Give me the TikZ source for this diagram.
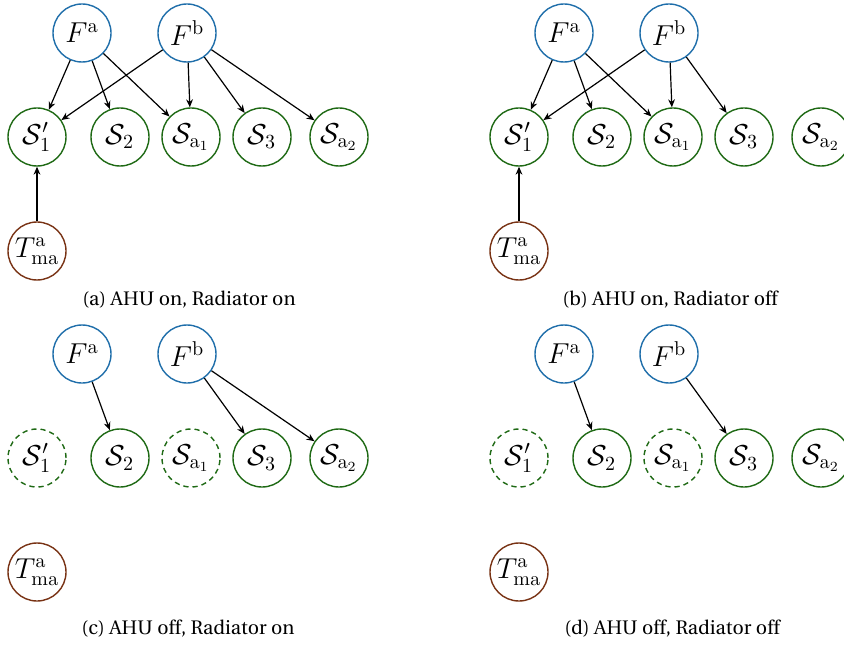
\documentclass[tikz,border=0pt]{standalone}
\usepackage[T1]{fontenc}
\usetikzlibrary{arrows.meta}
\definecolor{fblue}{RGB}{31,110,170}
\definecolor{sgreen}{RGB}{30,105,20}
\definecolor{tbrown}{RGB}{120,50,20}
\newcommand{\capfont}{\fontencoding{T1}\fontfamily{put}\selectfont}
\tikzset{
  vnode/.style={circle,draw,line width=0.7pt,minimum size=29pt,inner sep=0pt,font=\fontsize{14.4}{17}\selectfont},
  fnode/.style={vnode,draw=fblue},
  snode/.style={vnode,draw=sgreen},
  soff/.style={snode,dash pattern=on 2.6pt off 2pt},
  tnode/.style={vnode,draw=tbrown},
  conn/.style={-{Stealth[length=4pt,width=3.4pt]},line width=0.6pt,black},
  capt/.style={font=\capfont\fontsize{9.8}{12}\selectfont,inner sep=0pt}
}
\begin{document}
\begin{tikzpicture}[x=0.5pt,y=-0.5pt]
\useasboundingbox (0,0) rectangle (844,646);
% ---------- panel (a)
\begin{scope}
\node[fnode] (aFa) at (82,33) {$F^{\mathrm{a}}$};
\node[fnode] (aFb) at (187,33) {$F^{\mathrm{b}}$};
\node[snode] (aS1) at (37,137) {$\mathcal{S}'_1$};
\node[snode] (aS2) at (120,137) {$\mathcal{S}_2$};
\node[snode] (aSa1) at (191,137) {$\mathcal{S}_{\mathrm{a}_1}$};
\node[snode] (aS3) at (262,137) {$\mathcal{S}_3$};
\node[snode] (aSa2) at (339,137) {$\mathcal{S}_{\mathrm{a}_2}$};
\node[tnode] (aT) at (37,251) {$T^{\mathrm{a}}_{\mathrm{ma}}$};
\draw[conn] (aFa) -- (aS1);
\draw[conn] (aFa) -- (aS2);
\draw[conn] (aFa) -- (aSa1);
\draw[conn] (aFb) -- (aS1);
\draw[conn] (aFb) -- (aSa1);
\draw[conn] (aFb) -- (aS3);
\draw[conn] (aFb) -- (aSa2);
\draw[conn] (aT) -- (aS1);
\node[capt] (acap) at (189,300) {(a) AHU on, Radiator on};
\end{scope}
% ---------- panel (b)
\begin{scope}[shift={(482,0)}]
\node[fnode] (bFa) at (82,33) {$F^{\mathrm{a}}$};
\node[fnode] (bFb) at (187,33) {$F^{\mathrm{b}}$};
\node[snode] (bS1) at (37,137) {$\mathcal{S}'_1$};
\node[snode] (bS2) at (120,137) {$\mathcal{S}_2$};
\node[snode] (bSa1) at (191,137) {$\mathcal{S}_{\mathrm{a}_1}$};
\node[snode] (bS3) at (262,137) {$\mathcal{S}_3$};
\node[snode] (bSa2) at (339,137) {$\mathcal{S}_{\mathrm{a}_2}$};
\node[tnode] (bT) at (37,251) {$T^{\mathrm{a}}_{\mathrm{ma}}$};
\draw[conn] (bFa) -- (bS1);
\draw[conn] (bFa) -- (bS2);
\draw[conn] (bFa) -- (bSa1);
\draw[conn] (bFb) -- (bS1);
\draw[conn] (bFb) -- (bSa1);
\draw[conn] (bFb) -- (bS3);
\draw[conn] (bT) -- (bS1);
\node[capt] (bcap) at (188,300) {(b) AHU on, Radiator off};
\end{scope}
% ---------- panel (c)
\begin{scope}[shift={(0,321)}]
\node[fnode] (cFa) at (82,33) {$F^{\mathrm{a}}$};
\node[fnode] (cFb) at (187,33) {$F^{\mathrm{b}}$};
\node[soff] (cS1) at (37,137) {$\mathcal{S}'_1$};
\node[snode] (cS2) at (120,137) {$\mathcal{S}_2$};
\node[soff] (cSa1) at (191,137) {$\mathcal{S}_{\mathrm{a}_1}$};
\node[snode] (cS3) at (262,137) {$\mathcal{S}_3$};
\node[snode] (cSa2) at (339,137) {$\mathcal{S}_{\mathrm{a}_2}$};
\node[tnode] (cT) at (37,251) {$T^{\mathrm{a}}_{\mathrm{ma}}$};
\draw[conn] (cFa) -- (cS2);
\draw[conn] (cFb) -- (cS3);
\draw[conn] (cFb) -- (cSa2);
\node[capt] (ccap) at (188,308) {(c) AHU off, Radiator on};
\end{scope}
% ---------- panel (d)
\begin{scope}[shift={(482,321)}]
\node[fnode] (dFa) at (82,33) {$F^{\mathrm{a}}$};
\node[fnode] (dFb) at (187,33) {$F^{\mathrm{b}}$};
\node[soff] (dS1) at (37,137) {$\mathcal{S}'_1$};
\node[snode] (dS2) at (120,137) {$\mathcal{S}_2$};
\node[soff] (dSa1) at (191,137) {$\mathcal{S}_{\mathrm{a}_1}$};
\node[snode] (dS3) at (262,137) {$\mathcal{S}_3$};
\node[snode] (dSa2) at (339,137) {$\mathcal{S}_{\mathrm{a}_2}$};
\node[tnode] (dT) at (37,251) {$T^{\mathrm{a}}_{\mathrm{ma}}$};
\draw[conn] (dFa) -- (dS2);
\draw[conn] (dFb) -- (dS3);
\node[capt] (dcap) at (190,308) {(d) AHU off, Radiator off};
\end{scope}
\end{tikzpicture}
\end{document}
